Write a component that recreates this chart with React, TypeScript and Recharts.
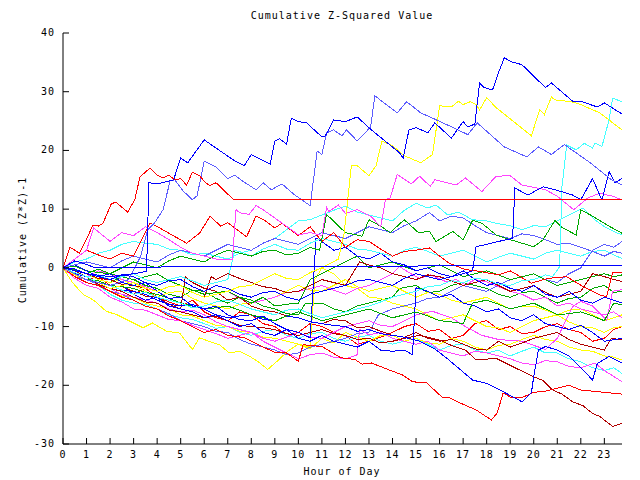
import React from "react";
import { LineChart, Line, XAxis, YAxis } from "recharts";

type P = [number, number];

const xTicks = [0,1,2,3,4,5,6,7,8,9,10,11,12,13,14,15,16,17,18,19,20,21,22,23];
const yTicks = [-30,-20,-10,0,10,20,30,40];

const blueTop: P[] = [[0,0],[1,-1],[2,-1.5],[3,-1],[3.55,-0.6],[3.65,14.5],[4.0,14.3],[4.7,15],[5.0,18.7],[5.3,17.9],[6.0,21.8],[7.3,18.2],[7.7,17.4],[8.0,19.3],[8.8,17.7],[9.0,21.6],[9.2,22],[9.5,21.1],[9.7,25.5],[10.0,24.9],[10.35,24.7],[11.0,22.3],[11.15,22.5],[11.5,25.2],[12,24.9],[12.5,25.7],[13.1,23.5],[14.3,19.6],[14.45,18.7],[14.7,23.5],[15.0,23.9],[15.5,23],[15.8,24.7],[16.5,22.1],[17.0,24.9],[17.2,24],[17.5,24.5],[17.7,31.5],[17.9,30.7],[18.25,30.3],[18.5,33.2],[18.75,35.8],[19.05,35.1],[19.5,34.6],[20.5,30.7],[20.75,31.5],[21.65,28.4],[22.05,28.3],[22.7,27.4],[23.0,28.1],[23.75,26.2]];
const slateTop: P[] = [[0,0],[1,-2],[2,-3],[2.8,-2],[3.3,2],[3.6,6.5],[3.9,7.7],[4.25,9.9],[4.55,14.8],[4.75,15],[5.1,13.1],[5.5,11.6],[5.7,12.3],[6.0,18.2],[6.5,17.2],[7.0,15.2],[7.3,15.8],[7.55,15],[8.2,13.3],[8.5,14.5],[8.85,13.3],[9.3,14.3],[9.85,12.4],[10.5,10.6],[10.8,19.9],[11.0,19.3],[11.2,23],[11.5,23.5],[11.85,22.5],[12.05,23.5],[12.5,21.6],[13.07,24],[13.25,29.3],[14.2,26.4],[14.6,28.3],[15.2,26.4],[15.7,25.5],[16.3,24.4],[17.2,22.7],[17.6,24.7],[18.75,20.6],[19.7,18.9],[20.2,20.6],[20.75,19.3],[21.3,21],[22.4,17.9],[23.3,15],[23.75,14.1]];
const redFlat: P[] = [[0,0],[0.3,3.5],[0.7,2.5],[1.06,5.4],[1.27,7.3],[1.5,7.1],[1.7,7.6],[2.05,10.9],[2.25,11.2],[2.45,10.5],[2.75,9.5],[3.05,11.6],[3.27,15.5],[3.5,16.3],[3.7,17],[4.0,15.8],[4.25,15.3],[4.5,15.8],[4.75,15],[5.0,15.2],[5.25,14.1],[5.5,16.3],[5.8,15.7],[6.05,14.5],[6.25,14],[6.5,14.5],[7.25,11.6],[23.75,11.6]];
const blueFlat: P[] = [[0,0],[0.5,1.2],[1,0.6],[1.3,0.1],[23.75,0.45]];
const yellowTop: P[] = [[0,0],[0.5,-1.2],[1,-2],[1.5,-2.5],[2,-3.5],[2.5,-3],[3,-2.5],[3.5,-3.5],[4,-4],[4.5,-3.2],[5,-3],[5.5,-4.2],[6,-5],[6.5,-4.5],[7,-4],[7.5,-3.2],[8,-3],[8.5,-2],[9,-1],[9.5,-1.8],[10,-2],[10.5,-0.8],[11,0],[11.7,1.5],[11.95,6],[12.25,17.4],[12.5,17.4],[13.0,15.7],[13.3,17.4],[13.55,21.6],[14.0,20.8],[14.5,19.1],[15.2,17.9],[15.7,19.3],[16.0,27.6],[16.5,27.4],[16.8,28.4],[17.0,27.8],[17.3,28.3],[17.55,27.8],[17.7,26.9],[18.0,29],[18.4,27.3],[19.9,22.5],[20.25,26.9],[20.45,26.1],[20.75,29.1],[20.9,28.6],[21.6,28.3],[22,27.8],[22.8,26.4],[23.75,23.5]];
const magentaUp: P[] = [[0,0],[0.5,1.5],[1,3],[1.3,6.8],[1.7,5.5],[2,4.5],[2.5,6],[3,5.5],[3.5,7],[4,6],[4.5,4.8],[5,3.5],[5.5,2.5],[6,2],[6.5,1.5],[7.2,1.5],[7.35,9.9],[7.5,9.4],[7.9,9.1],[8.2,10.6],[8.5,9.9],[9.1,8.2],[9.7,6.5],[10,5.6],[10.5,6],[11,5.5],[11.2,10.3],[11.3,9.6],[11.7,10.7],[12,9.3],[12.5,9.9],[13.1,8.7],[13.5,7],[13.7,11.6],[13.9,11.9],[14.2,15.9],[14.8,14.3],[15.15,15.6],[15.6,13.9],[15.8,15],[16.7,14.1],[17.1,15.3],[17.8,13],[18.4,15.6],[19,15.7],[19.5,14.1],[20.5,13.3],[21,12.2],[21.7,9.9],[22.3,11.9],[22.8,12.7],[23.35,12.2],[23.75,11.6]];
const cyanJump: P[] = [[0,0],[0.5,-0.8],[1,-1.5],[1.5,-2.5],[2,-3],[2.5,-3.8],[3,-4.5],[3.5,-4.2],[4,-5],[4.5,-5.5],[5,-6],[5.5,-6.8],[6,-6.5],[6.5,-5.8],[7,-5.5],[7.5,-6.2],[8,-7],[8.5,-7.5],[9,-8],[9.5,-7.2],[10,-7],[10.5,-7.8],[11,-8.5],[11.5,-8],[12,-7.5],[12.5,-7],[13,-6.5],[13.5,-5.8],[14,-5],[14.5,-4.5],[15,-4],[15.5,-3.2],[16,-3],[16.5,-2.2],[17,-2.5],[17.5,-1.8],[18,-2],[18.5,-2.8],[19,-3],[19.5,-2.2],[20,-2],[20.5,-1.2],[20.8,-1.5],[21.1,0.2],[21.2,13.8],[21.4,20.9],[21.8,20.1],[22.15,21.2],[22.5,20.4],[22.6,21.3],[22.9,20.7],[23.2,25.2],[23.35,28.9],[23.75,28.3]];
const greenUp: P[] = [[0,0],[0.5,-0.5],[1,-1],[1.5,-0.2],[2,-1],[2.5,0],[3,1],[3.5,0.5],[4,0],[4.5,1.2],[5,2],[5.5,1.5],[6,1],[6.5,2.2],[7,3],[7.5,2.5],[8,2],[8.5,2.8],[9,3],[9.5,2.2],[10,2.5],[10.5,3.5],[10.9,3],[11.2,9.1],[12,6],[12.7,5.4],[13,8.2],[13.5,7.1],[13.9,6],[14.5,8.2],[15.1,6],[15.57,6.2],[15.85,4.5],[16.56,6.2],[17,4.8],[17.4,8.1],[17.8,7.6],[18.4,5.6],[19,4.8],[20,3.6],[20.4,4.8],[20.9,8.1],[21.2,6.9],[21.8,5.6],[22,9.9],[22.5,8.8],[23.2,7.1],[23.75,5.9]];
const red2: P[] = [[0,0],[0.5,1.5],[1,3],[1.5,2.2],[2,1.5],[2.5,2.5],[3,2],[3.7,7.6],[4.1,6.8],[4.5,5.9],[5.25,4.2],[5.8,5.9],[6.25,8.8],[6.7,7.1],[7.0,7.7],[7.4,6.5],[7.8,5.3],[8.2,8.8],[8.6,8.0],[9,6.8],[9.3,7.6],[10,5.5],[10.5,7],[11,4.5],[11.5,6],[12,3.5],[12.5,4.8],[13,4.5],[13.5,3.2],[14,2],[14.5,2.8],[15,3],[15.57,3.4],[16,2],[16.4,0.8],[17.1,-0.3],[17.7,-0.6],[18.5,-1.2],[19,-0.5],[19.9,-2.6],[20.6,-1.8],[21.4,-1.5],[22.1,-3.2],[22.8,-4.6],[23.1,-4.9],[23.35,-0.8],[23.75,-0.8]];
const darkred1: P[] = [[0,0],[0.5,-0.5],[1,-1],[1.5,-1.8],[2,-2],[2.5,-2.8],[3,-3],[3.5,-3.5],[4,-4],[4.5,-3.2],[5,-3],[5.5,-4.2],[6,-5],[6.3,-1.5],[6.5,-2],[7,-1],[7.5,-1.8],[8,-2.5],[8.5,-3.2],[9,-3.5],[9.5,-4.2],[10,-4],[10.5,-3],[11,-2],[11.5,-2.5],[12,-3],[12.6,1],[13,0.5],[13.5,0],[14,-1],[14.5,-1.5],[15,-2],[15.5,-1.2],[16,-1.5],[16.5,-2.2],[17,-3],[17.5,-2.5],[18,-2],[18.5,-3],[19,-4],[19.5,-3.5],[20,-3],[20.5,-4.2],[21,-5],[21.5,-4.5],[22,-4],[22.5,-1],[23,-1.5],[23.4,-2],[23.75,-2.3]];
const green2: P[] = [[0,0],[0.5,0.3],[1,-0.5],[1.5,-0.8],[2,-1],[2.5,-1.5],[3,-2],[3.5,-1.5],[4,-1],[4.5,-2.2],[5,-3],[5.5,-3.8],[6,-4.5],[6.5,-4.2],[7,-4],[7.5,-5],[8,-6],[8.5,-5],[9,-6.5],[9.5,-6.2],[10,-6],[10.5,-2],[11,-1],[11.5,0],[12,1],[12.5,2],[13,0],[13.5,0.5],[14,1],[14.5,0.2],[15,-0.5],[15.5,0],[16,0.5],[16.5,-0.5],[17,-1.5],[17.5,-1],[18,-0.5],[18.5,-1.2],[19,-2],[19.5,-1.5],[20,-1],[20.5,-2],[21,-3],[21.5,-2.5],[22,-2],[22.5,-1.5],[23,-1],[23.4,-1.5],[23.75,-1.2]];
const green3: P[] = [[0,0],[0.5,-1],[1,-2],[1.5,-2.2],[2,-3],[2.5,-3.2],[3,-3.5],[3.5,-4.2],[4,-4.5],[4.5,-5.2],[5,-6],[5.5,-6.5],[6,-7],[6.5,-6.8],[7,-6.5],[7.5,-7.2],[8,-8],[8.5,-8.5],[9,-9],[9.5,-8.2],[10,-7.5],[10.5,-8.2],[11,-9],[11.5,-8.5],[12,-8],[12.5,-7.5],[13,-7],[13.5,-7.8],[14,-8.5],[14.5,-8],[15,-7.5],[15.5,-8.2],[16,-9],[16.5,-9.2],[17,-9.5],[17.4,-6],[18,-5.5],[18.5,-6.2],[19,-7],[19.5,-6.5],[20,-6],[20.5,-7],[21,-8],[21.5,-7.8],[22,-7.5],[22.5,-8.2],[23,-9],[23.4,-6],[23.75,-6.3]];
const magentaLow: P[] = [[0,0],[0.5,-1],[1,-2],[1.5,-2.5],[2,-3.5],[2.5,-4.5],[3,-5],[3.5,-5.5],[4,-6],[4.5,-7],[5,-7.5],[5.5,-7.2],[6,-8],[6.5,-9.2],[7,-10],[7.5,-10.5],[8,-11],[8.5,-12.5],[9,-13.5],[9.5,-14.5],[10,-15.5],[10.5,-14.8],[11,-14.5],[11.5,-15.2],[12,-15.5],[12.5,-14.8],[12.6,-10.5],[13,-11.4],[13.5,-11],[14,-12],[14.5,-12.5],[15,-13],[15.5,-12.5],[16,-14],[16.5,-14.5],[17,-15],[17.5,-14.2],[18,-14.5],[18.5,-15],[19,-15.5],[19.5,-16.2],[20,-16.5],[20.5,-15.8],[21,-16],[21.5,-16.8],[22,-17],[22.6,-16.2],[23,-17.5],[23.4,-18.5],[23.75,-19.4]];
const magentaMid: P[] = [[0,0],[0.5,-1],[1,-1.5],[1.5,-0.5],[2,-1],[2.5,-2],[3,-2.5],[3.5,-3.2],[4,-4],[4.5,-3.2],[5,-3],[5.5,-4.2],[6,-5],[6.5,-4.5],[7,-4],[7.5,-5.2],[8,-6],[8.5,-5.5],[9,-5],[9.5,-4.2],[10,-4],[10.5,-3.5],[11,-3],[11.5,-3.8],[12,-4.5],[12.5,-3.5],[13,-3],[13.5,-2],[14,-1],[14.3,0.2],[14.7,-0.8],[15.15,-1.8],[15.6,-1.2],[16.3,-2.4],[16.7,-2],[17.1,-2.9],[17.5,-2],[18,-2.4],[18.5,-3.2],[19,-4],[19.5,-4.5],[20,-5.5],[20.5,-5],[21,-6.5],[21.5,-6],[22,-7],[22.5,-7.5],[23,-8],[23.4,-7.5],[23.75,-8.5]];
const magentaMid2: P[] = [[0,0],[0.5,-1.8],[1,-3],[1.5,-3.5],[2,-5],[2.5,-5.8],[3,-7],[3.5,-7.2],[4,-8],[4.5,-8.8],[5,-9],[5.5,-9.8],[6,-10.5],[6.5,-11.2],[7,-12],[7.5,-11.5],[8,-11],[8.5,-12],[9,-12.5],[9.5,-11.8],[10,-11],[10.5,-11.8],[11,-12],[11.5,-11],[12,-10],[12.5,-9.5],[13,-9],[13.5,-9.8],[14,-10],[14.5,-9],[15,-8],[15.7,-7.4],[16.5,-8.5],[17.1,-10],[17.8,-11.5],[18.5,-12.2],[19.5,-12.5],[20.5,-13.9],[21,-12],[21.65,-6.6],[22,-5.7],[22.5,-6.5],[23.1,-8.9],[23.35,-4],[23.75,-3.7]];
const darkred2: P[] = [[0,0],[0.5,-0.8],[1,-1.5],[1.5,-2.5],[2,-3],[2.5,-3.2],[3,-4],[3.5,-4.8],[4,-5],[4.5,-6.2],[5,-7],[5.2,-1.5],[5.5,-2.5],[6,-3.5],[6.5,-4],[7,-5.5],[7.5,-5],[8,-6.5],[8.5,-7.2],[9,-7.5],[9.5,-8.2],[10,-8.5],[10.5,-9.2],[11,-9.5],[11.5,-8.8],[12,-9],[12.5,-10.2],[13,-10],[13.5,-10.8],[14,-11.5],[14.5,-11.8],[15,-11],[15.5,-12],[16,-12.5],[16.5,-12.2],[17,-13],[17.5,-13.8],[18,-14],[18.5,-12.5],[19,-13.5],[19.5,-12.8],[20,-12],[20.5,-11.5],[21,-11],[21.5,-12.2],[22,-13],[22.5,-13.5],[23,-14],[23.3,-12],[23.75,-12.3]];
const darkredBottom: P[] = [[0,0],[0.5,-0.5],[1,-1.5],[1.5,-2.8],[2,-3.5],[2.5,-4],[3,-5],[3.5,-5.8],[4,-6],[4.5,-7.2],[5,-7.5],[5.5,-8],[6,-8.5],[6.5,-8.2],[7,-9],[7.5,-9.8],[8,-10],[8.5,-10.2],[9,-10.5],[9.5,-11.2],[10,-11.5],[10.5,-11],[11,-10.5],[11.5,-11.2],[12,-11.5],[12.5,-12.2],[13,-12],[13.5,-12.8],[14,-12.5],[14.5,-12],[15.15,-11.5],[16,-12.3],[16.5,-13.2],[17.1,-14],[17.55,-15.7],[18.4,-15.4],[19.2,-17],[19.96,-18.5],[20.4,-19.2],[20.8,-20.8],[21.2,-21.5],[21.65,-22.8],[22.1,-23.5],[22.5,-24.8],[22.8,-25.3],[23.35,-27],[23.75,-26.5]];
const redBottom: P[] = [[0,0],[0.5,-1.5],[1,-2.5],[1.5,-3],[2,-4],[2.5,-5],[3,-5.5],[3.5,-6.5],[4,-7],[4.5,-8.2],[5,-9],[5.5,-10],[6,-11],[6.5,-10.5],[7,-11.5],[7.72,-11.9],[8.3,-13.1],[9.06,-14.5],[9.5,-14.5],[10,-15.9],[10.2,-13.1],[11,-13.4],[11.8,-15.3],[12.4,-15.6],[12.7,-16.4],[13.1,-16.2],[13.8,-17.3],[14.4,-18.2],[14.85,-19.4],[15.45,-19.6],[16.1,-22],[16.4,-22.1],[16.75,-22.8],[17.55,-24.2],[18.2,-25.9],[18.45,-24.7],[18.7,-21.3],[19,-22],[19.5,-22.1],[20,-21.2],[20.5,-21],[21,-20.5],[21.5,-20],[22,-20.8],[22.5,-21],[23,-21.2],[23.75,-21.5]];
const blueV: P[] = [[0,0],[0.5,-1.2],[1,-2],[1.5,-2.2],[2,-3],[2.5,-3.8],[3,-4],[3.5,-4.5],[4,-5.5],[4.5,-6.2],[5,-6.5],[5.5,-6.2],[6,-7],[6.5,-8],[7,-8.5],[7.5,-8.2],[8,-8],[8.5,-8.8],[9,-9],[9.5,-8.2],[10,-8.5],[10.5,-9.2],[11,-9.5],[11.5,-9.8],[12,-10],[12.5,-10.8],[13,-10.5],[13.5,-11.2],[14,-11.5],[14.5,-11.8],[15.15,-12.5],[15.8,-13.8],[16.4,-15.7],[17.4,-19.1],[18,-19.7],[18.7,-21.1],[19.5,-22.8],[19.9,-21.3],[20,-18.5],[20.2,-14],[20.5,-13.4],[21,-14],[21.5,-15],[22,-17],[22.5,-19.1],[22.7,-16.3],[23.2,-15.1],[23.75,-16.2]];
const yellowLow: P[] = [[0,0],[0.4,-2.5],[0.85,-4.5],[1.3,-5.5],[1.84,-7.4],[2.3,-8],[2.8,-9],[3.4,-10.2],[3.8,-9.4],[4.4,-10.8],[4.95,-11.1],[5.5,-13.9],[5.8,-11.9],[6.2,-12.5],[6.65,-13.1],[7.07,-14.5],[7.5,-14.2],[7.9,-15],[8.3,-16],[8.7,-17.3],[9.1,-15.9],[9.55,-14.2],[10,-13],[10.5,-13.8],[11,-12],[11.5,-12.8],[12,-11],[12.5,-11.8],[13,-12.5],[13.5,-11.5],[14,-11.5],[14.5,-12.5],[15,-12],[15.5,-12.8],[16,-13],[16.5,-12],[17,-12.5],[17.5,-13.5],[18,-14],[18.5,-13.2],[19,-13],[19.5,-12.2],[20,-11.5],[20.5,-12.2],[21,-12.5],[21.5,-13.5],[22,-14],[22.5,-14.2],[23,-15],[23.4,-15.2],[23.75,-15.7]];
const yellowMid: P[] = [[0,0],[0.5,-1.5],[1,-2.5],[1.5,-3],[2,-4],[2.5,-4.8],[3,-5],[3.5,-6],[4,-6.5],[4.5,-7],[5,-8],[5.5,-8.2],[6,-9],[6.5,-9.8],[7,-10],[7.5,-10.8],[8,-11],[8.5,-11.8],[9,-12],[9.5,-12.5],[10,-13],[10.5,-13.5],[10.7,-2],[11,0],[11.5,-1],[12,-3],[12.5,-3.5],[13,-5],[13.5,-5.2],[14,-6],[14.5,-6.5],[15,-7],[15.5,-8],[16,-9],[16.5,-8.5],[17,-8],[17.5,-9],[18,-10],[18.5,-10.2],[19,-11],[19.5,-10],[20,-9],[20.5,-8.5],[21,-8],[21.5,-9.2],[22,-10],[22.5,-10.2],[23,-11],[23.4,-10.2],[23.75,-10]];
const yellowUp2: P[] = [[0,0],[0.5,-0.5],[1,-1],[1.5,-2],[2,-2.5],[2.5,-2],[3,-3],[3.5,-4],[4,-5],[4.5,-4.2],[5,-4],[5.5,-5.2],[6,-6],[6.5,-6.5],[7,-7],[7.5,-6.2],[8,-6],[8.5,-5.5],[9,-5],[9.5,-4],[10,-3],[10.5,-3.8],[11,-4],[11.5,-3],[12,-2],[12.5,-3.2],[13,-4],[13.5,-3.5],[14,-3],[14.5,-4],[15,-5],[15.5,-4.2],[16,-4.5],[16.5,-5.5],[17,-6],[17.5,-5.5],[18,-5],[18.5,-6],[19,-7],[19.5,-6.5],[20,-6.5],[20.5,-7.2],[21,-8],[21.5,-7.2],[22,-7],[22.5,-8],[23,-9],[23.4,-8.5],[23.75,-8]];
const cyanLow: P[] = [[0,0],[0.5,-1.5],[1,-2.5],[1.5,-3],[2,-4.5],[2.5,-5.5],[3,-6],[3.5,-6.2],[4,-7],[4.5,-8],[5,-8.5],[5.5,-8.8],[6,-9.5],[6.5,-10.3],[7,-10],[7.5,-11],[8,-11.5],[8.5,-10.8],[9,-10.5],[9.5,-11.5],[10,-12],[10.5,-11.2],[11,-11],[11.5,-12],[12,-12.5],[12.5,-11.8],[13,-11.5],[13.5,-12.5],[14,-13],[14.5,-12.5],[15,-12],[15.5,-13],[16,-14],[16.5,-13.2],[17,-13],[17.5,-14],[18,-14.5],[18.5,-14],[19,-15],[19.5,-14.2],[20,-13.5],[20.5,-14.5],[21,-14.5],[21.5,-15.5],[22,-16],[22.5,-17],[23,-17.5],[23.4,-17],[23.75,-18]];
const cyanMid: P[] = [[0,0],[0.5,-0.8],[1,-1.5],[1.5,-1.2],[2,-2],[2.5,-1.5],[3,-1],[3.5,-2],[4,-2.5],[4.5,-2],[5,-1.5],[5.5,-2.2],[6,-3],[6.5,-2.5],[7,-2],[7.3,3],[7.7,2.5],[8,2],[8.5,3.2],[9,4],[9.5,3.2],[10,3],[10.5,4.2],[11,5],[11.5,4.5],[12,4],[12.5,3.2],[13,3],[13.5,2.5],[14,2],[14.5,3],[15,3.5],[15.5,2.8],[16,2],[16.5,2.5],[17,3],[17.5,2],[18,1],[18.5,1.8],[19,2.5],[19.5,2],[20,1.5],[20.5,2.5],[21,3],[21.5,2.5],[22,2],[22.5,2.8],[23,3],[23.4,2.2],[23.75,1.6]];
const cyanUp: P[] = [[0,0],[0.5,1],[1,1.5],[1.5,2.5],[2,3],[2.5,4],[3,4.5],[3.5,4.2],[4,4],[4.5,3.2],[5,3],[5.5,2.2],[6,2.5],[6.5,2],[7,1.5],[7.5,2.5],[8,3],[8.5,4.2],[9,5],[9.5,6.5],[10,8],[10.5,8.2],[11,9],[11.5,9.8],[12,10.5],[12.5,9.5],[13,9],[13.5,8.5],[14,8],[14.5,9.8],[15,11],[15.5,10.2],[15.85,10.7],[16.35,9],[16.8,9.5],[17.4,8.2],[18,8],[18.5,7.5],[19,7.2],[19.5,6.5],[20,7.2],[20.5,7],[21,8],[21.5,9],[22.1,10.2],[22.6,8.2],[23,7],[23.4,6.2],[23.75,5.6]];
const slate2: P[] = [[0,0],[0.5,-1.5],[1,-2],[1.5,-2.8],[2,-4],[2.5,-4.5],[3,-5.5],[3.5,-6.5],[4,-7],[4.5,-7.8],[5,-9],[5.5,-9.5],[6,-10],[6.5,-10.8],[7,-11],[7.5,-12.2],[8,-13],[8.5,-13.5],[9,-14],[9.5,-14.8],[10,-14.5],[10.5,-13.5],[11,-13],[11.5,-12.5],[12,-12],[12.5,-11.2],[13,-11],[13.4,-8],[14,-7],[14.5,-6.5],[15,-6],[15.5,-5.2],[16,-5],[16.5,-4],[17,-3],[17.5,-3.5],[18,-4],[18.5,-3],[19,-2],[19.5,-1.5],[20,-1],[20.5,-2],[21,-2.5],[21.5,-1],[22,0],[22.5,3],[23,4],[23.4,3.5],[23.75,4.5]];
const slate3: P[] = [[0,0],[0.5,0.5],[1,1],[1.5,0.5],[2,0],[2.5,1.2],[3,2],[3.5,1.5],[4,1],[4.5,2.2],[5,3],[5.5,2.5],[6,2],[6.5,3],[7,4],[7.5,3.5],[8,3],[8.5,4.2],[9,5],[9.5,4.5],[10,4],[10.5,5],[11,6],[11.5,5.5],[12,5],[12.5,6],[13,7],[13.5,6.5],[14,6],[14.5,7.2],[15,8],[15.57,9.4],[16,8],[16.5,8.8],[17,8.5],[17.5,7.2],[18,6],[18.5,5.5],[19,5],[19.5,5.8],[20,5.5],[20.5,4.8],[21,4],[21.5,4.2],[22,3.5],[22.5,2.8],[23,2],[23.4,2.8],[23.75,2.5]];
const blueMid: P[] = [[0,0],[0.5,-0.2],[1,-1],[1.5,-1.5],[2,-2],[2.5,-1.2],[3,-1.5],[3.5,-2.5],[4,-3],[4.5,-2.2],[5,-2],[5.5,-3.2],[6,-4],[6.5,-3],[7,-3.5],[7.5,-4.5],[8,-5],[8.5,-4.2],[9,-4],[9.5,-5],[10,-5.5],[10.5,-4.5],[11,-4],[11.5,-3.5],[12,-3],[12.5,-2.2],[13,-2],[13.5,-2.5],[14,-3],[14.5,-1.8],[15,-1],[15.5,-1.5],[16,-2],[16.5,-1.5],[17,-1],[17.4,-0.5],[17.55,3.6],[18,4],[18.5,4.5],[19.1,5],[19.2,13.6],[19.75,12.4],[20.4,13.8],[21,13.2],[21.65,12.4],[22,11.6],[22.5,15.2],[22.9,11.5],[23.2,16.4],[23.45,14.5],[23.75,15.2]];
const blueJ1: P[] = [[0,0],[0.5,0.5],[1,-0.5],[1.5,-1.5],[2,-1],[2.5,-2.5],[3,-3],[3.5,-2.5],[4,-4],[4.5,-5.2],[5,-5],[5.5,-6.5],[6,-7],[6.5,-6.5],[7,-8],[7.5,-8.8],[8,-9],[8.5,-8.2],[9,-9.5],[9.5,-10.5],[10,-11],[10.5,-11.9],[10.75,5.1],[11,4.5],[11.5,3],[12,3.5],[12.5,2],[13,1.5],[13.5,2.5],[14,1],[14.5,0.5],[15,-0.5],[15.5,0],[16,-1],[16.5,-1.5],[17,-0.5],[17.5,-2],[18,-3],[18.5,-2.5],[19,-3.5],[19.5,-4],[20,-3],[20.5,-4.5],[21,-5],[21.5,-4],[22,-5.5],[22.5,-6],[23,-5],[23.75,-6]];
const blueJ2: P[] = [[0,0],[0.5,-1],[1,-1.5],[1.5,-2.5],[2,-3.5],[2.5,-3],[3,-4.5],[3.5,-5.5],[4,-5],[4.5,-6.5],[5,-7],[5.5,-7.5],[6,-8.5],[6.5,-8],[7,-9],[7.5,-10],[8,-9.5],[8.5,-11],[9,-11.5],[9.5,-10.5],[10,-12],[10.5,-12.5],[11,-11.5],[11.5,-12.5],[12,-13],[12.5,-13.5],[13,-12.5],[13.5,-14],[14,-14.2],[14.5,-14],[14.85,-14.8],[15,-3.4],[15.5,-4],[16,-5],[16.5,-4.5],[17,-6],[17.5,-6.5],[18,-7.5],[18.5,-7],[19,-8.5],[19.5,-9],[20,-8],[20.5,-9.5],[21,-10],[21.5,-10.5],[22,-9.8],[22.5,-11],[23,-12.5],[23.75,-12]];
const green4: P[] = [[0,0],[0.5,-0.3],[1,-1],[1.5,-2],[2,-2.5],[2.5,-1.5],[3,-2],[3.5,-3],[4,-3.5],[4.5,-4.5],[5,-5],[5.5,-3.8],[6,-4],[6.5,-5.2],[7,-6],[7.5,-5],[8,-5.5],[8.5,-6.5],[9,-7],[9.5,-7.8],[10,-8],[10.3,-6],[11,-6],[11.5,-7],[12,-7.5],[12.5,-6.5],[13,-6],[13.5,-5.5],[14,-5],[14.3,-3.5],[15,-3],[15.5,-4.2],[16,-4],[16.5,-3],[17,-2.5],[17.5,-3],[18,-3.5],[18.5,-4.5],[19,-5],[19.5,-4.2],[20,-4],[20.5,-5],[21,-6],[21.5,-5.2],[22,-5],[22.5,-3.5],[23,-3],[23.4,-4.2],[23.75,-4]];
const red3: P[] = [[0,0],[0.5,-1.2],[1,-2],[1.5,-1.5],[2,-3],[2.5,-3.8],[3,-4.5],[3.5,-3.5],[4,-5],[4.5,-5.8],[5,-6.5],[5.5,-5.5],[6,-7.5],[6.5,-8.5],[7,-9],[7.5,-7.5],[8,-8],[8.5,-9.5],[9,-10],[9.5,-11.5],[10,-11],[10.5,-9.5],[11,-10],[11.5,-11],[12,-11.5],[12.5,-13],[13,-12.5],[13.5,-11.8],[14,-11],[14.5,-10],[15,-9.5],[15.5,-10.8],[16,-10.5],[16.5,-12],[17,-11.5],[17.5,-9.5],[18,-9],[18.5,-10.5],[19,-10],[19.5,-11.2],[20,-11],[20.5,-10],[21,-9.5],[21.5,-10.5],[22,-11],[22.5,-12.5],[23,-12],[23.4,-10.5],[23.75,-10]];

const RED = "#ff0000", GREEN = "#00a800", BLUE = "#0000ff", MAG = "#ff44ff", CYAN = "#44ffff", DRED = "#b00000", YEL = "#ffff00", SLATE = "#5c5cff";

const series: { pts: P[]; color: string }[] = [
  { pts: red3, color: RED },
  { pts: green4, color: GREEN },
  { pts: cyanLow, color: CYAN },
  { pts: yellowUp2, color: YEL },
  { pts: yellowMid, color: YEL },
  { pts: yellowLow, color: YEL },
  { pts: slate2, color: SLATE },
  { pts: magentaMid2, color: MAG },
  { pts: magentaMid, color: MAG },
  { pts: magentaLow, color: MAG },
  { pts: darkred2, color: DRED },
  { pts: darkredBottom, color: DRED },
  { pts: redBottom, color: RED },
  { pts: blueV, color: BLUE },
  { pts: blueJ2, color: BLUE },
  { pts: green3, color: GREEN },
  { pts: green2, color: GREEN },
  { pts: darkred1, color: DRED },
  { pts: blueJ1, color: BLUE },
  { pts: cyanMid, color: CYAN },
  { pts: cyanUp, color: CYAN },
  { pts: slate3, color: SLATE },
  { pts: red2, color: RED },
  { pts: greenUp, color: GREEN },
  { pts: cyanJump, color: CYAN },
  { pts: magentaUp, color: MAG },
  { pts: yellowTop, color: YEL },
  { pts: blueMid, color: BLUE },
  { pts: slateTop, color: SLATE },
  { pts: blueTop, color: BLUE },
  { pts: redFlat, color: RED },
  { pts: blueFlat, color: BLUE },
];

const FONT = "'DejaVu Sans Mono', 'Liberation Mono', monospace";
const txt = { fontFamily: FONT, fontSize: 10, letterSpacing: 1, fill: "#000" } as const;
const TL = 6;

const BottomTick = (p: any) => (
  <g>
    <line x1={p.x} x2={p.x} y1={p.y} y2={p.y - TL} stroke="#000" />
    <text x={p.x} y={p.y + 11} textAnchor="middle" dominantBaseline="middle" {...txt}>{p.payload.value}</text>
  </g>
);
const TopTick = (p: any) => (
  <line x1={p.x} x2={p.x} y1={p.y} y2={p.y + TL} stroke="#000" />
);
const LeftTick = (p: any) => (
  <g>
    <line x1={p.x} x2={p.x + TL} y1={p.y} y2={p.y} stroke="#000" />
    <text x={p.x - 8} y={p.y} textAnchor="end" dominantBaseline="middle" {...txt}>{p.payload.value}</text>
  </g>
);
const RightTick = (p: any) => (
  <line x1={p.x} x2={p.x - TL} y1={p.y} y2={p.y} stroke="#000" />
);

export default function App() {
  return (
    <div style={{ position: "absolute", left: 0, top: 0, width: 640, height: 480, background: "#fff" }}>
      <style>{`.recharts-line-curve{shape-rendering:crispEdges}`}</style>
      <LineChart width={640} height={480} margin={{ top: 33, right: 18, bottom: 0, left: 0 }}>
        <XAxis xAxisId="b" type="number" dataKey="h" domain={[0, 23.75]} ticks={xTicks} interval={0}
          height={36} tickSize={0} tickMargin={0} tickLine={false} tick={BottomTick} axisLine={{ stroke: "#000" }} allowDataOverflow />
        <XAxis xAxisId="t" orientation="top" type="number" dataKey="h" domain={[0, 23.75]} ticks={xTicks} interval={0}
          height={0} tickSize={0} tickMargin={0} tickLine={false} tick={TopTick} axisLine={{ stroke: "#000" }} allowDataOverflow />
        <YAxis yAxisId="l" type="number" domain={[-30, 40]} ticks={yTicks} interval={0}
          width={63} tickSize={0} tickMargin={0} tickLine={false} tick={LeftTick} axisLine={{ stroke: "#000" }} allowDataOverflow />
        <YAxis yAxisId="r" orientation="right" type="number" domain={[-30, 40]} ticks={yTicks} interval={0}
          width={0} tickSize={0} tickMargin={0} tickLine={false} tick={RightTick} axisLine={{ stroke: "#000" }} allowDataOverflow />
        {series.map((s, i) => (
          <Line key={i} xAxisId="b" yAxisId="l" type="linear" data={s.pts.map(([h, v]) => ({ h, v }))}
            dataKey="v" stroke={s.color} strokeWidth={1} dot={false} activeDot={false}
            isAnimationActive={false} />
        ))}
      </LineChart>
      <svg width={640} height={480} style={{ position: "absolute", left: 0, top: 0, pointerEvents: "none" }}>
        <text x={342} y={16} textAnchor="middle" dominantBaseline="middle" {...txt}>Cumulative Z-Squared Value</text>
        <text x={342} y={472} textAnchor="middle" dominantBaseline="middle" {...txt}>Hour of Day</text>
        <text x={22.5} y={240} textAnchor="middle" dominantBaseline="middle" transform="rotate(-90 22.5 240)" {...txt}>Cumulative (Z*Z)-1</text>
      </svg>
    </div>
  );
}
